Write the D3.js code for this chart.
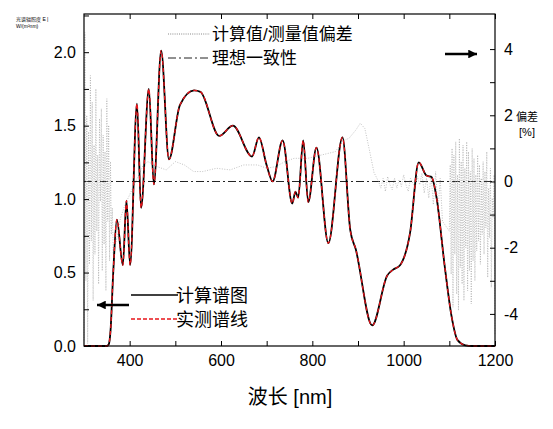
<!DOCTYPE html><html><head><meta charset="utf-8">
<script src="https://cdn.jsdelivr.net/npm/d3@7"></script>
<style>body{margin:0;background:#fff}text{font-family:"Liberation Sans",Arial,"Noto Sans CJK SC",sans-serif}</style></head><body>
<svg id="c" width="553" height="429"></svg>
<script>
const specX=[300,350,354,358,364,372,385,393,401,416,425,442,453,469,486,510,541,555,596,626,668,683,700,713,735,756,763,769,780,791,809,835,866,883,895,931,964,977,992,1014,1033,1050,1061,1072,1090,1105,1118,1135,1150,1200];
const specY=[0,0,0.01,0.1,0.5,0.86,0.55,0.99,0.55,1.65,0.94,1.75,1.10,2.01,1.27,1.64,1.74,1.73,1.43,1.50,1.29,1.42,1.23,1.12,1.40,0.97,1.05,1.01,1.40,0.98,1.35,0.70,1.42,0.79,0.66,0.14,0.48,0.52,0.55,0.77,1.25,1.16,1.15,1.01,0.54,0.20,0.04,0.005,0,0];
const noiseA=[-4.8,4.5,-3,2,-4.9,1.5,-2.5,3.2,-1.8,2.4,-3.6,1.1,-2.2,2.8,-1.5,0.8,-3.1,1.9,-0.6,2.2,-2.7,1.4,-1.9,0.9,-3.3,2.5,-1.2,1.7,-2.4,0.6,-1.6,-0.8];
const devMidX=[364,372,380,390,400,410,420,430,440,460,480,500,520,540,560,590,620,650,680,700,720,740,760,790,820,850,870,880,895,905,915,925,935,945];
const devMidY=[-2.2,-1.7,-1.1,-0.7,-0.4,-0.1,0.2,0.5,0.6,0.45,0.35,0.6,0.5,0.3,0.3,0.4,0.35,0.5,0.5,0.4,0.45,0.6,0.7,0.7,0.8,0.9,1.25,1.3,1.55,1.76,1.6,0.95,0.27,0];
const noiseC=[-0.2,0.1,-0.3,0.15,-0.1,-0.25,0.1,-0.2,0.05,-0.15,0.2,-0.1,-0.3,0.1,-0.05,-0.2,0.15,-0.1,0.25,-0.35,0.1,-0.5,0.2,-0.7,0.3,-0.9,0.1,-1.2];
const noiseB=[-1.5,0.5,-2.8,1.0,-3.8,0.8,-2.2,1.2,-3.4,0.2,-3.9,1.3,-2.6,0.6,-3.1,1.1,-3.6,0.4,-2.0,1.2,-3.3,0.9,-2.7,0.3,-3.7,1.0,-2.4,0.7,-3.0,0.2,-2.1,0.8,-1.8,0.5,-2.5,0.1,-1.6,0.6,-2.2,0.3,-1.4,0.9,-2.9,-0.2,-1.7,0.4,-3.2,-0.5,-1.1,0.2,-4.6];
const xTicks=[400,600,800,1000,1200];
const yTicks=[0,0.5,1.0,1.5,2.0];
const rTicks=[-4,-2,0,2,4];

const devX=[],devY=[];
noiseA.forEach((v,i)=>{devX.push(300+i*2);devY.push(v);});
devMidX.forEach((x,i)=>{devX.push(x);devY.push(devMidY[i]);});
noiseC.forEach((v,i)=>{devX.push(950+i*5);devY.push(v);});
noiseB.forEach((v,i)=>{devX.push(1100+i*2);devY.push(v);});

const svg=d3.select("#c");
const L=84,R=495,T=14,B=346;
const x=d3.scaleLinear().domain([300,1200]).range([L,R]);
const y=d3.scaleLinear().domain([0,2.26]).range([B,T]);
const yr=d3.scaleLinear().domain([-4.97,5.06]).range([B,T]);

const spec=specX.map((v,i)=>[v,specY[i]]);
const dev=devX.map((v,i)=>[v,devY[i]]);
const g=svg.append("g");
g.append("line").attr("x1",L).attr("x2",R).attr("y1",yr(0)).attr("y2",yr(0)).attr("stroke","#222").attr("stroke-width",1).attr("stroke-dasharray","8,3,2,3");
g.append("path").datum(dev).attr("d",d3.line().x(d=>x(d[0])).y(d=>yr(d[1]))).attr("fill","none").attr("stroke","#999").attr("stroke-width",0.6).attr("stroke-dasharray","1,1.5");
const sl=d3.line().x(d=>x(d[0])).y(d=>y(d[1])).curve(d3.curveMonotoneX);
g.append("path").datum(spec).attr("d",sl).attr("fill","none").attr("stroke","#000").attr("stroke-width",1.8);
g.append("path").datum(spec).attr("d",sl).attr("fill","none").attr("stroke","#e8141a").attr("stroke-width",1.3).attr("stroke-dasharray","4,3");

svg.append("rect").attr("x",L).attr("y",T).attr("width",R-L).attr("height",B-T).attr("fill","none").attr("stroke","#000").attr("stroke-width",1.2);
svg.append("g").attr("transform",`translate(0,${B})`).call(d3.axisBottom(x).tickValues(d3.range(400,1201,100)).tickSize(-5).tickFormat(d=>xTicks.includes(d)?d:"").tickPadding(9)).call(a=>{a.select(".domain").remove();a.selectAll("text").style("font-size","16px");});
svg.append("g").attr("transform",`translate(0,${T})`).call(d3.axisTop(x).tickValues(d3.range(400,1201,100)).tickSize(-5).tickFormat("")).call(a=>a.select(".domain").remove());
svg.append("g").attr("transform",`translate(${L},0)`).call(d3.axisLeft(y).tickValues(d3.range(0,2.26,0.25)).tickSize(-5).tickFormat(d=>yTicks.some(t=>Math.abs(t-d)<1e-6)?d3.format(".1f")(d):"").tickPadding(8)).call(a=>{a.select(".domain").remove();a.selectAll("text").style("font-size","16px");});
svg.append("g").attr("transform",`translate(${R},0)`).call(d3.axisRight(yr).tickValues(d3.range(-4,5,1)).tickSize(-5).tickFormat(d=>rTicks.includes(d)?d:"").tickPadding(9)).call(a=>{a.select(".domain").remove();a.selectAll("text").style("font-size","16px");});

svg.append("text").attr("x",290).attr("y",404).attr("text-anchor","middle").style("font-size","20px").text("波长 [nm]");
svg.append("text").attr("x",527).attr("y",121).attr("text-anchor","middle").style("font-size","11px").text("偏差");
svg.append("text").attr("x",527).attr("y",136).attr("text-anchor","middle").style("font-size","11px").text("[%]");
svg.append("text").attr("x",16).attr("y",21).style("font-size","5px").text("光谱辐照度 E |");
svg.append("text").attr("x",16).attr("y",28).style("font-size","5px").text("W/(m²nm)");

const lg=svg.append("g");
lg.append("line").attr("x1",168).attr("x2",210).attr("y1",34).attr("y2",34).attr("stroke","#888").attr("stroke-dasharray","1,1.2");
lg.append("text").attr("x",212).attr("y",40).style("font-size","17px").text("计算值/测量值偏差");
lg.append("line").attr("x1",168).attr("x2",210).attr("y1",58).attr("y2",58).attr("stroke","#222").attr("stroke-dasharray","8,3,2,3");
lg.append("text").attr("x",212).attr("y",64).style("font-size","17px").text("理想一致性");
lg.append("line").attr("x1",131).attr("x2",178).attr("y1",295).attr("y2",295).attr("stroke","#000").attr("stroke-width",1.5);
lg.append("text").attr("x",176).attr("y",302).style("font-size","18px").text("计算谱图");
lg.append("line").attr("x1",131).attr("x2",178).attr("y1",319).attr("y2",319).attr("stroke","#e8141a").attr("stroke-width",1.5).attr("stroke-dasharray","4,2");
lg.append("text").attr("x",176).attr("y",326).style("font-size","18px").text("实测谱线");

svg.append("defs").append("marker").attr("id","ah").attr("viewBox","0 0 10 10").attr("refX",10).attr("refY",5).attr("markerWidth",4).attr("markerHeight",3.5).attr("orient","auto").append("path").attr("d","M0,0L10,5L0,10z").attr("fill","#000");
svg.append("line").attr("x1",129).attr("x2",97).attr("y1",305).attr("y2",305).attr("stroke","#000").attr("stroke-width",2.5).attr("marker-end","url(#ah)");
svg.append("line").attr("x1",445).attr("x2",477).attr("y1",54).attr("y2",54).attr("stroke","#000").attr("stroke-width",2.5).attr("marker-end","url(#ah)");
</script></body></html>
